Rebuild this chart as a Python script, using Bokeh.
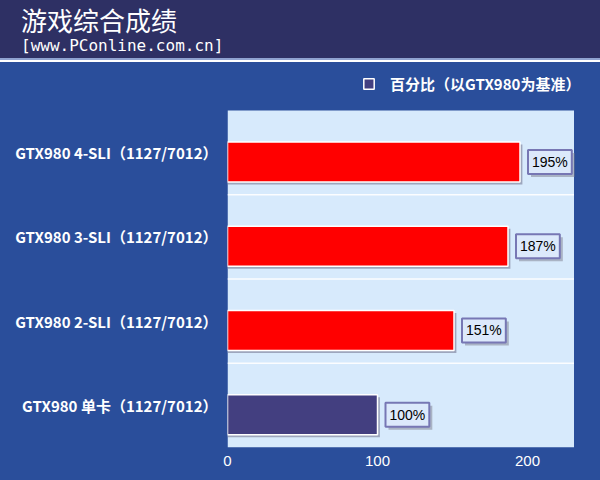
from bokeh.plotting import figure
from bokeh.models import ColumnDataSource, FixedTicker, Legend, LegendItem, Div
from bokeh.layouts import column
from bokeh.embed import file_html
from bokeh.resources import INLINE
from bokeh.core.properties import value
from bokeh.transform import dodge

# ---- data ----
categories = ["GTX980 单卡（1127/7012）", "GTX980 2-SLI（1127/7012）",
              "GTX980 3-SLI（1127/7012）", "GTX980 4-SLI（1127/7012）"]
values = [100, 151, 187, 195]
value_labels = ["100%", "151%", "187%", "195%"]
bar_colors = ["#433f80", "#ff0000", "#ff0000", "#ff0000"]
x_ticks = [0, 100, 200]
title_text = "游戏综合成绩"
subtitle_text = "[www.PConline.com.cn]"
legend_text = "百分比（以GTX980为基准）"

positions = [i + 0.5 for i in range(len(categories))]
boundaries = [i for i in range(1, len(categories))]
n = len(categories)

W = 600
HEADER_H = 62
MAIN_H = 418
X_MAX = 231          # end of the light plot area (value axis)
X_VIEW = 242         # view extends a bit to the right so the legend is not clipped
LEGEND_BAND = 0.475  # extra room (in category units) above the plot area for the legend
BAR_SHIFT = -0.11    # bars sit a little below the category centre, as in the original
BAR_H = 0.475

NAVY = "#2e3064"
BLUE = "#2a4e9b"
PLOT_BG = "#d7eafc"

# ---- header ----
header_html = (
    f'<div style="position:relative;width:{W}px;height:60px;background:{NAVY};'
    f'border-bottom:2px solid #8fa2d0;overflow:hidden;">'
    f'<div style="position:absolute;left:21px;top:2px;color:white;'
    f'font-family:\'Noto Sans CJK SC\';font-size:26px;line-height:36px;">{title_text}</div>'
    f'<div style="position:absolute;left:21px;top:36px;color:white;'
    f'font-family:\'DejaVu Sans Mono\';font-size:16px;line-height:20px;">{subtitle_text}</div>'
    f'</div>'
)
header = Div(text=header_html, width=W, height=HEADER_H, margin=0)

# ---- main ----
src = ColumnDataSource(dict(pos=positions, value=values, label=value_labels,
                            color=bar_colors, cat=categories))
grid_src = ColumnDataSource(dict(y=boundaries, x0=[0] * len(boundaries),
                                 x1=[X_MAX] * len(boundaries)))

p = figure(width=W, height=MAIN_H, x_range=(0, X_VIEW), y_range=(0, n + LEGEND_BAND),
           toolbar_location=None, output_backend="svg",
           min_border_left=227, min_border_right=10, min_border_top=8, min_border_bottom=33)
p.background_fill_color = None
p.border_fill_color = None
p.styles = {"background-color": BLUE}
p.outline_line_color = None

# light plot area
p.quad(left=0, right=X_MAX, bottom=0, top=n, fill_color=PLOT_BG, line_color=None, level="image")
# category separators
p.segment(x0="x0", x1="x1", y0="y", y1="y", line_color="white", line_alpha=0.9,
          line_width=1.5, source=grid_src, level="underlay")

# bar shadows
p.hbar(y=dodge("pos", BAR_SHIFT - 0.03, range=p.y_range), left=0,
       right=dodge("value", 1.6, range=p.x_range), height=BAR_H,
       fill_color="#8a8fa8", fill_alpha=0.75, line_color=None, source=src)
# bars
bars = p.hbar(y=dodge("pos", BAR_SHIFT, range=p.y_range), left=0, right="value",
              height=BAR_H, fill_color="color", line_color="white", line_width=1.5,
              source=src)

# value label boxes (shadow + box)
p.text(x="value", y=dodge("pos", BAR_SHIFT, range=p.y_range), text="label",
       x_offset=11, y_offset=3,
       text_align="left", text_baseline="middle", text_alpha=0,
       text_font=value("Liberation Sans"), text_font_size="14px",
       background_fill_color="#7c7c8c", background_fill_alpha=0.5,
       border_line_color=None, padding=4, source=src)
p.text(x="value", y=dodge("pos", BAR_SHIFT, range=p.y_range), text="label",
       x_offset=8, y_offset=0,
       text_align="left", text_baseline="middle", text_color="black",
       text_font=value("Liberation Sans"), text_font_size="14px",
       background_fill_color="#dce9fb", border_line_color="#7777b4",
       border_line_width=2, padding=4, source=src)

# legend (swatch taken from the base-line bar)
legend = Legend(items=[LegendItem(label=legend_text, renderers=[bars], index=0)],
                location=(135, 353), orientation="horizontal",
                padding=0, margin=0, spacing=0,
                glyph_width=13, glyph_height=13, label_standoff=15,
                label_text_color="white", label_text_font="Noto Sans CJK SC",
                label_text_font_style="bold", label_text_font_size="15px",
                background_fill_alpha=0, border_line_alpha=0)
p.add_layout(legend)

# axes
p.xaxis.ticker = FixedTicker(ticks=x_ticks)
p.yaxis.ticker = FixedTicker(ticks=positions)
p.yaxis.major_label_overrides = {pos: cat for pos, cat in zip(positions, categories)}
for ax in (p.xaxis, p.yaxis):
    ax.axis_line_color = None
    ax.major_tick_line_color = None
    ax.minor_tick_line_color = None
    ax.major_label_text_color = "white"
p.xaxis.major_label_text_font = "Liberation Sans"
p.xaxis.major_label_text_font_size = "15px"
p.xaxis.major_label_standoff = 2
p.yaxis.major_label_text_font = "Noto Sans CJK SC"
p.yaxis.major_label_text_font_style = "bold"
p.yaxis.major_label_text_font_size = "15px"
p.yaxis.major_label_standoff = 4

p.xgrid.visible = False
p.ygrid.visible = False

layout = column(header, p, spacing=0)
open("out.html", "w").write(file_html(layout, INLINE))
